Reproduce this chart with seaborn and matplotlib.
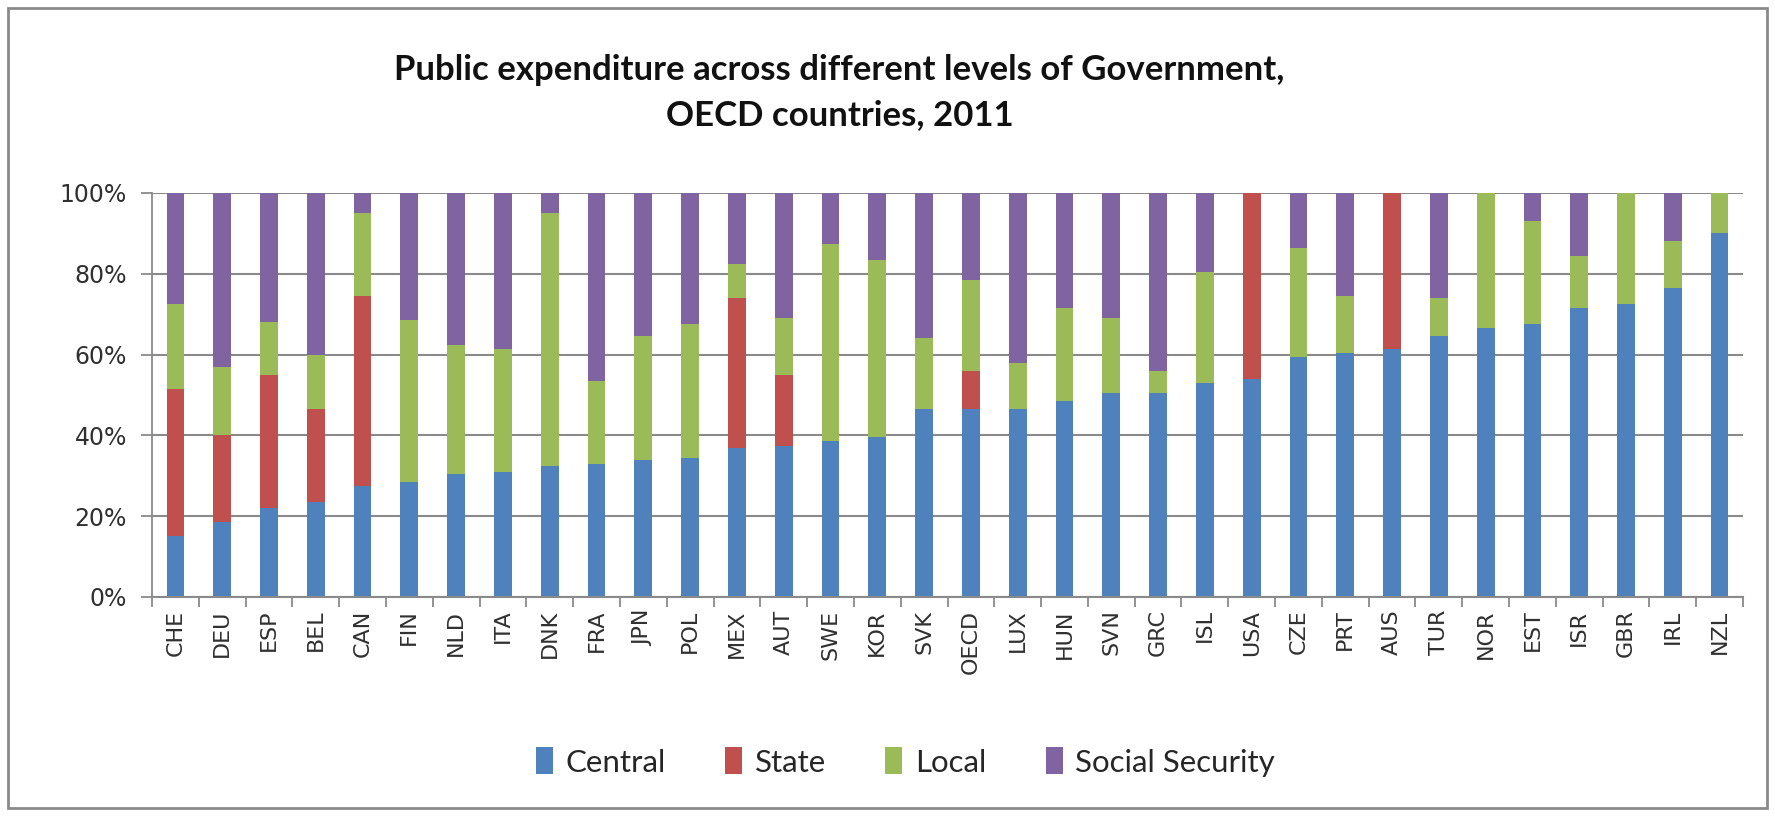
import matplotlib
matplotlib.use("Agg")
import matplotlib.pyplot as plt
from matplotlib.patches import Rectangle, Patch
from matplotlib.ticker import FixedLocator, PercentFormatter
import numpy as np
import pandas as pd
import seaborn as sns

countries = ["CHE", "DEU", "ESP", "BEL", "CAN", "FIN", "NLD", "ITA", "DNK", "FRA",
             "JPN", "POL", "MEX", "AUT", "SWE", "KOR", "SVK", "OECD", "LUX", "HUN",
             "SVN", "GRC", "ISL", "USA", "CZE", "PRT", "AUS", "TUR", "NOR", "EST",
             "ISR", "GBR", "IRL", "NZL"]
central = [15, 18.5, 22, 23.5, 27.5, 28.5, 30.5, 31, 32.5, 33,
           34, 34.5, 37, 37.5, 38.5, 39.5, 46.5, 46.5, 46.5, 48.5,
           50.5, 50.5, 53, 54, 59.5, 60.5, 61.5, 64.5, 66.5, 67.5,
           71.5, 72.5, 76.5, 90]
state = [36.5, 21.5, 33, 23, 47, 0, 0, 0, 0, 0,
         0, 0, 37, 17.5, 0, 0, 0, 9.5, 0, 0,
         0, 0, 0, 46, 0, 0, 38.5, 0, 0, 0,
         0, 0, 0, 0]
local = [21, 17, 13, 13.5, 20.5, 40, 32, 30.5, 62.5, 20.5,
         30.5, 33, 8.5, 14, 49, 44, 17.5, 22.5, 11.5, 23,
         18.5, 5.5, 27.5, 0, 27, 14, 0, 9.5, 33.5, 25.5,
         13, 27.5, 11.5, 10]
social = [27.5, 43, 32, 40, 5, 31.5, 37.5, 38.5, 5, 46.5,
          35.5, 32.5, 17.5, 31, 12.5, 16.5, 36, 21.5, 42, 28.5,
          31, 44, 19.5, 0, 13.5, 25.5, 0, 26, 0, 7,
          15.5, 0, 12, 0]
series_names = ["Central", "State", "Local", "Social Security"]
colors = ["#4F81BD", "#C0504D", "#9BBB59", "#8064A2"]

df = pd.DataFrame({"country": countries, "Central": central, "State": state,
                   "Local": local, "Social Security": social})
cum = df[series_names].cumsum(axis=1)

sns.set_theme(style="white")
plt.rcParams["font.family"] = ["DejaVu Sans"]

W, H = 1775, 816
fig = plt.figure(figsize=(W / 100, H / 100), dpi=100)
fig.patch.set_facecolor("white")
ax = fig.add_axes([152 / W, 1 - 597 / H, (1743 - 152) / W, (597 - 193) / H])

# draw stacked bars: tallest cumulative first, smaller over it
for name, col in reversed(list(zip(series_names, colors))):
    sns.barplot(x=df["country"], y=cum[name], order=countries, color=col,
                width=0.38, saturation=1, ax=ax, edgecolor="none", linewidth=0)

ax.set_ylim(0, 100)
ax.set_xlim(-0.5, len(countries) - 0.5)
ax.yaxis.set_major_locator(FixedLocator([0, 20, 40, 60, 80, 100]))
ax.yaxis.set_major_formatter(PercentFormatter(decimals=0))
ax.set_xlabel("")
ax.set_ylabel("")
ax.grid(axis="y", color="#8a8a8a", linewidth=1.5)
ax.set_axisbelow(True)
for s in ["top", "right"]:
    ax.spines[s].set_visible(False)
ax.spines["left"].set_color("#8a8a8a")
ax.spines["left"].set_linewidth(1.3)
ax.spines["bottom"].set_color("#8a8a8a")
ax.spines["bottom"].set_linewidth(1.5)

ax.tick_params(axis="y", which="major", length=8, width=1.3, color="#8a8a8a",
               labelsize=17, labelcolor="#303030", pad=10, left=True)
ax.tick_params(axis="x", which="major", length=0, labelsize=16,
               labelcolor="#303030", pad=9, rotation=90)
ax.xaxis.set_minor_locator(FixedLocator(np.arange(-0.5, len(countries), 1.0)))
ax.tick_params(axis="x", which="minor", length=7, width=1.3, color="#8a8a8a",
               bottom=True)

fig.text(0.473, 1 - 70 / H, "Public expenditure across different levels of Government,",
         ha="center", va="center", fontsize=25, fontweight="bold",
         family=["Lato", "DejaVu Sans"], color="#111111")
fig.text(0.473, 1 - 115 / H, "OECD countries, 2011",
         ha="center", va="center", fontsize=25, fontweight="bold",
         family=["Lato", "DejaVu Sans"], color="#111111")

handles = [Patch(facecolor=c, edgecolor="none", label=n) for n, c in zip(series_names, colors)]
leg = fig.legend(handles=handles, loc="center", bbox_to_anchor=(0.51, 1 - 762 / H),
                 ncol=4, frameon=False, handlelength=0.55,
                 handleheight=0.95, handletextpad=0.4, columnspacing=1.9,
                 prop={"family": ["Lato", "DejaVu Sans"], "size": 22.5})
for t in leg.get_texts():
    t.set_color("#262626")

fig.patches.append(Rectangle((8 / W, 8 / H), (W - 16) / W, (H - 16) / H,
                             transform=fig.transFigure, fill=False,
                             edgecolor="#8a8a8a", linewidth=2))

fig.savefig("out.png", dpi=100, facecolor="white")
